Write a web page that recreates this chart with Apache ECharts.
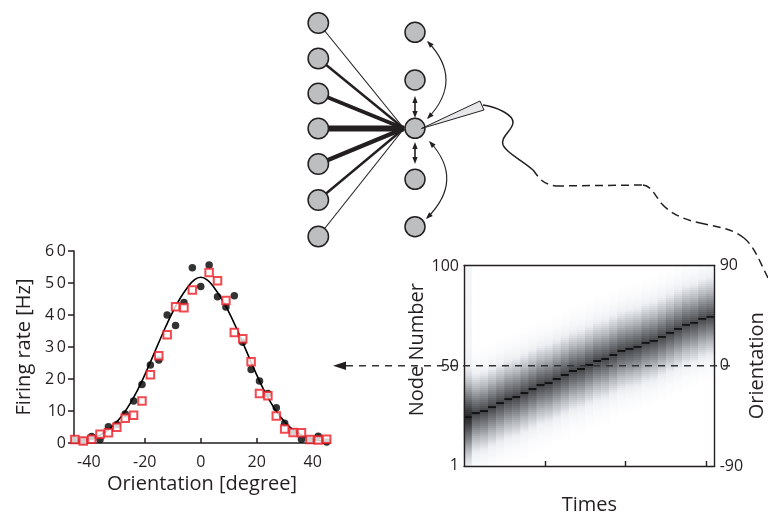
<!DOCTYPE html>
<html><head><meta charset="utf-8">
<script src="https://cdn.jsdelivr.net/npm/echarts@6/dist/echarts.min.js"></script>
<style>html,body{margin:0;padding:0;background:#fff}#c{width:768px;height:516px}</style>
</head><body><div id="c"></div>
<script>
// ---------- tuning curve data ----------
const dotX = [-45,-42,-39,-36,-33,-30,-27,-24,-21,-18,-15,-12,-9,-6,-3,0,3,6,9,12,15,18,21,24,27,30,33,36,39,42,45];
const dotY = [0.9,0.6,2.0,1.1,5.1,5.8,9.1,13.1,18.3,24.4,25.9,40.0,36.7,43.9,54.8,48.9,55.6,45.7,42.5,46.0,31.5,23.0,19.4,15.5,11.0,6.2,3.5,1.2,0.9,2.1,0.3];
const squareX = [-45,-42,-39,-36,-33,-30,-27,-24,-21,-18,-15,-12,-9,-6,-3,3,6,9,12,15,18,21,24,27,30,33,36,39,42,45];
const squareY = [1.1,0.6,1.2,2.7,3.2,4.9,7.7,8.7,13.1,21.3,27.3,33.8,42.6,42.3,47.8,53.3,50.7,44.5,34.5,32.6,25.4,15.5,14.8,8.4,4.4,3.3,3.2,1.1,0.9,1.2];
const fitX = [-45,-42.5,-40,-37.5,-35,-32.5,-30,-27.5,-25,-22.5,-20,-17.5,-15,-12.5,-10,-7.5,-5,-2.5,0,2.5,5,7.5,10,12.5,15,17.5,20,22.5,25,27.5,30,32.5,35,37.5,40,42.5,45];
const fitY = [0.4,0.7,1.2,1.9,3.0,4.5,6.6,9.3,12.7,16.7,21.3,26.3,31.4,36.4,41.0,45.0,48.3,50.8,51.8,50.8,48.3,45.0,41.0,36.4,31.4,26.3,21.3,16.7,12.7,9.3,6.6,4.5,3.0,1.9,1.2,0.7,0.4];
const orientTicks = [-40,-20,0,20,40];

// ---------- population activity (heatmap) data ----------
const times = [1,2,3,4,5,6,7,8,9,10,11,12,13,14,15,16,17,18,19,20,21,22,23,24,25,26,27,28,29,30,31];
const nodes = Array.from({length:100},(_,i)=>i+1);
const bandCenter = [25,27,28,30,32,34,35,37,39,41,42,44,46,48,49,51,53,54,56,58,59,60,62,63,65,67,69,71,72,74,75];
const bandProfile = [1.0,0.75,0.72,0.69,0.66,0.63,0.60,0.57,0.54,0.51,0.48,0.45,0.42,0.39,0.36,0.33,0.30,0.27,0.24,0.21,0.18,0.155,0.132,0.11,0.092,0.076,0.062,0.05,0.039,0.03,0.022,0.015,0.009,0.005,0.002,0];
const firstColumnTint = 0.12;
const nodeTickLabels = [1,50,100];
const timeTickValues = [10,20,30];
const orientationRange = [-90,0,90];

const heatData = [];
times.forEach((t,i)=>{
  nodes.forEach((n,j)=>{
    const d = Math.abs(n - bandCenter[i]);
    let v = d < bandProfile.length ? bandProfile[d] : 0;
    if (i === 0) v = Math.min(1, v + firstColumnTint);
    heatData.push([i, j, v]);
  });
});

const INK = '#231f20';
const FONT = "'Open Sans', 'Noto Sans', sans-serif";

// ---------- network schematic (decorative graphics) ----------
function head(x, y, dx, dy, len, hw){
  const m = Math.hypot(dx,dy); const ux = dx/m, uy = dy/m;
  const bx = x - ux*len, by = y - uy*len;
  return {type:'polygon', z:20, shape:{points:[[x,y],[bx - uy*hw, by + ux*hw],[bx + uy*hw, by - ux*hw]]}, style:{fill:INK}};
}
function cubic(p, dash){
  return {type:'bezierCurve', z:20, shape:{x1:p[0],y1:p[1],cpx1:p[2],cpy1:p[3],cpx2:p[4],cpy2:p[5],x2:p[6],y2:p[7]},
    style:{fill:null, stroke:INK, lineWidth:1.5, lineDash:dash||null}};
}
function buildDiagram(){
  const g = [];
  const lx = 318.3, cx = 415, cy = 128.5;
  const leftY = [23, 58.5, 93.5, 128.5, 164, 200, 236.5];
  const leftW = [1.1, 2.4, 4, 6, 4.4, 2.4, 1.1];
  leftY.forEach((y,i)=> g.push({type:'line', z:10, shape:{x1:lx,y1:y,x2:cx-11,y2:cy}, style:{stroke:INK, lineWidth:leftW[i]}}));
  leftY.forEach(y=> g.push({type:'circle', z:12, shape:{cx:lx, cy:y, r:10.2}, style:{fill:'#bcbec0', stroke:INK, lineWidth:1.5}}));
  [32.3, 80, 128.3, 179.3, 226.7].forEach(y=> g.push({type:'circle', z:12, shape:{cx:cx, cy:y, r:10}, style:{fill:'#bcbec0', stroke:INK, lineWidth:1.5}}));
  [[97,117],[143,163]].forEach(([a,b])=>{
    g.push({type:'line', z:20, shape:{x1:cx,y1:a+3,x2:cx,y2:b-3}, style:{stroke:INK,lineWidth:1.6}});
    g.push(head(cx,a-1,0,-1,7,2.6)); g.push(head(cx,b+1,0,1,7,2.6));
  });
  [[428,42,428,118,464,80],[430,142,427,218,465,180]].forEach(([x1,y1,x2,y2,qx,qy])=>{
    g.push({type:'bezierCurve', z:20, shape:{x1:x1,y1:y1,x2:x2,y2:y2,cpx1:qx,cpy1:qy}, style:{stroke:INK,lineWidth:1.1,fill:null}});
    g.push(head(x1-1,y1-1,x1-qx,y1-qy,7,2.6)); g.push(head(x2-1,y2+1,x2-qx,y2-qy,7,2.6));
  });
  g.push({type:'polygon', z:25, shape:{points:[[421.5,128.5],[480,101],[484,110]]}, style:{fill:'#e6e7e8', stroke:INK, lineWidth:1}});
  [[483,105,497,107,514,115,513,123],[513,123,512,131,500,137,503,145],[503,145,506,153,522,160,533,170]].forEach(p=>g.push(cubic(p)));
  const D = [8,5];
  g.push(cubic([533,170,538,176,541,184,556,186],D));
  g.push({type:'line', z:20, shape:{x1:556,y1:186,x2:643,y2:185}, style:{stroke:INK,lineWidth:1.5,lineDash:D}});
  [[643,185,652,186,655,196,662,204],[662,204,670,213,682,219,700,223],[700,223,716,227,732,228,744,238],[744,238,754,246,760,262,768,278]].forEach(p=>g.push(cubic(p,D)));
  return g;
}

const chart = echarts.init(document.getElementById('c'), null, {renderer:'canvas'});
const option = {
  animation:false,
  backgroundColor:'#fff',
  textStyle:{fontFamily:FONT, color:INK},
  grid:[
    {left:74, top:251, width:256, height:192},
    {left:464, top:265.5, width:257.5, height:202}
  ],
  xAxis:[
    {type:'value', gridIndex:0, min:-45.3, max:46.2,
     axisLine:{onZero:false,lineStyle:{color:INK,width:1.5}},
     axisTick:{inside:true,length:5,customValues:orientTicks,lineStyle:{color:INK,width:1.5}},
     axisLabel:{customValues:orientTicks,fontSize:16,color:INK,margin:11,fontFamily:FONT},
     splitLine:{show:false},
     name:'Orientation [degree]', nameLocation:'middle', nameGap:31,
     nameTextStyle:{fontSize:20,color:INK,fontFamily:FONT}},
    {type:'category', gridIndex:1, data:times, boundaryGap:true, z:5,
     axisLine:{onZero:false,lineStyle:{color:INK,width:1.4}},
     axisTick:{show:false},
     axisLabel:{show:false},
     name:'Times', nameLocation:'middle', nameGap:29,
     nameTextStyle:{fontSize:20,color:INK,fontFamily:FONT}},
    {type:'category', gridIndex:1, data:times, position:'top', z:5,
     axisLine:{onZero:false,lineStyle:{color:INK,width:1.4}}, axisTick:{show:false}, axisLabel:{show:false}},
    {type:'value', gridIndex:1, min:0, max:times.length, position:'bottom', z:5,
     axisLine:{show:false,onZero:false},
     axisTick:{show:true,inside:true,length:5,customValues:timeTickValues,lineStyle:{color:INK,width:1.4}},
     axisLabel:{show:false}, splitLine:{show:false}}
  ],
  yAxis:[
    {type:'value', gridIndex:0, min:0, max:60, interval:10,
     axisLine:{show:true,onZero:false,lineStyle:{color:INK,width:1.5}},
     axisTick:{show:true,inside:false,length:6,lineStyle:{color:INK,width:1.5}},
     axisLabel:{fontSize:16,color:INK,margin:8,fontFamily:FONT,
       formatter:(v)=> v>=20 ? String(v).split('').join('\u2009') : String(v)},
     splitLine:{show:false},
     name:'Firing rate [Hz]', nameLocation:'middle', nameGap:40, nameRotate:90,
     nameTextStyle:{fontSize:20,color:INK,fontFamily:FONT}},
    {type:'category', gridIndex:1, data:nodes, position:'left', z:5,
     axisLine:{show:true,onZero:false,lineStyle:{color:INK,width:1.4}},
     axisTick:{show:false},
     axisLabel:{fontSize:16,color:INK,margin:5,fontFamily:FONT,
       interval:(i,v)=>nodeTickLabels.includes(Number(v))},
     name:'Node Number', nameLocation:'middle', nameGap:22, nameRotate:90,
     nameTextStyle:{fontSize:20,color:INK,fontFamily:FONT,padding:[0,0,0,32]}},
    {type:'value', gridIndex:1, position:'right', min:orientationRange[0], max:orientationRange[2], interval:90, z:5,
     axisLine:{show:true,onZero:false,lineStyle:{color:INK,width:1.4}},
     axisTick:{show:false},
     axisLabel:{fontSize:16,color:INK,margin:5,fontFamily:FONT},
     splitLine:{show:false},
     name:'Orientation', nameLocation:'middle', nameGap:19, nameRotate:90,
     nameTextStyle:{fontSize:20,color:INK,fontFamily:FONT}}
  ],
  visualMap:{show:false, seriesIndex:3, dimension:2, min:0, max:1,
    inRange:{color:['#ffffff','#eceef2','#b6babf','#76797d','#3c3d3f','#131313']}},
  series:[
    {type:'line', xAxisIndex:0, yAxisIndex:0, data:fitX.map((x,i)=>[x,fitY[i]]), smooth:true, symbol:'none',
     lineStyle:{color:'#000',width:1.6}, z:2},
    {type:'scatter', xAxisIndex:0, yAxisIndex:0, data:dotX.map((x,i)=>[x,dotY[i]]), symbol:'circle', symbolSize:7.5,
     itemStyle:{color:'#000'}, z:3},
    {type:'scatter', xAxisIndex:0, yAxisIndex:0, data:squareX.map((x,i)=>[x,squareY[i]]), symbol:'emptyRect', symbolSize:7.5,
     itemStyle:{color:'#ed1c24', borderColor:'#ed1c24', borderWidth:1.6}, z:4},
    {type:'heatmap', xAxisIndex:1, yAxisIndex:1, data:heatData, progressive:0, z:2,
     itemStyle:{borderWidth:0}, emphasis:{disabled:true}}
  ]
};
chart.setOption(option);

const y0 = chart.convertToPixel({yAxisIndex:2}, 0);
const graphics = buildDiagram();
graphics.push({type:'line', z:30, shape:{x1:346,y1:y0,x2:730,y2:y0}, style:{stroke:'#333',lineWidth:1.5,lineDash:[7,6]}});
graphics.push(head(333,y0,-1,0,13,4.2));
chart.setOption({graphic:graphics});
</script>
</body></html>
